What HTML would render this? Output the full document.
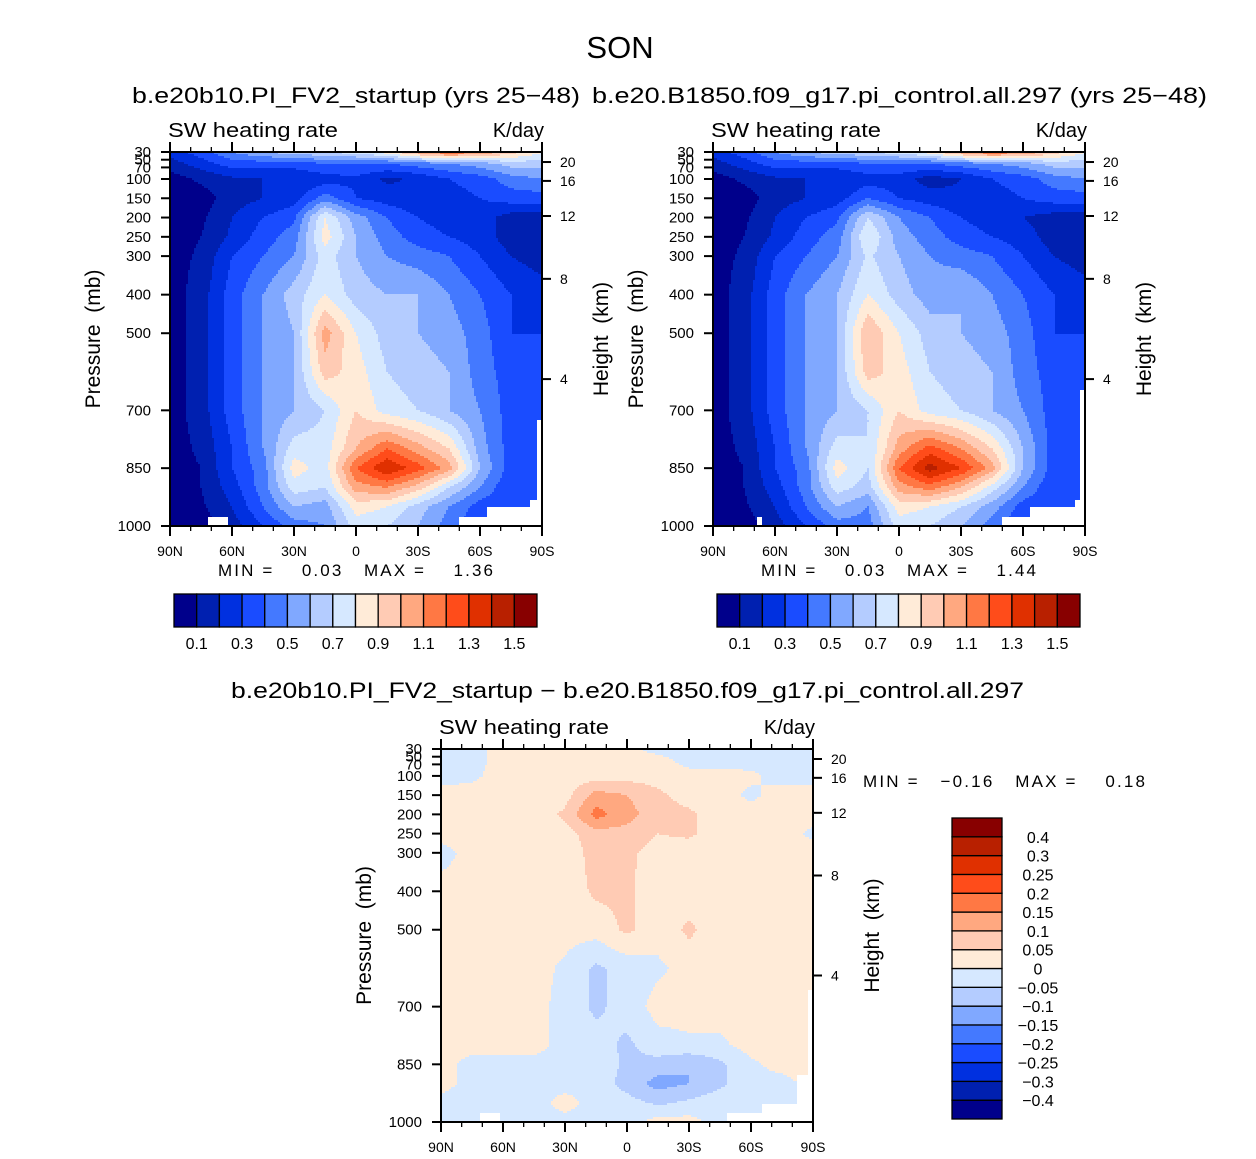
<!DOCTYPE html>
<html><head><meta charset="utf-8">
<style>
html,body{margin:0;padding:0;background:#fff;}
svg{display:block;font-family:"Liberation Sans",sans-serif;}
text{fill:#000;white-space:pre;}
</style></head>
<body>
<svg id="chart" width="1256" height="1159" viewBox="0 0 1256 1159" xmlns="http://www.w3.org/2000/svg">
<rect x="0" y="0" width="1256" height="1159" fill="#fff"/>
<text x="620" y="58" font-size="31" text-anchor="middle">SON</text>
<text x="132" y="103" font-size="22" textLength="448" lengthAdjust="spacingAndGlyphs">b.e20b10.PI_FV2_startup (yrs 25−48)</text>
<text x="592" y="103" font-size="22" textLength="615" lengthAdjust="spacingAndGlyphs">b.e20.B1850.f09_g17.pi_control.all.297 (yrs 25−48)</text>
<text x="231" y="698" font-size="22" textLength="793" lengthAdjust="spacingAndGlyphs">b.e20b10.PI_FV2_startup − b.e20.B1850.f09_g17.pi_control.all.297</text>
<g id="layer"></g>
</svg>
<script>
// ---- data ----
const lats = [90,75,60,45,30,15,0,-15,-30,-45,-60,-75,-90];
const pLevels = [30,60,100,150,200,250,300,400,500,600,700,800,850,900,950,1000];
const pTicks = [30,50,70,100,150,200,250,300,400,500,700,850,1000];
const hTicks = [20,16,12,8,4];
const hTickP = [56,105,196,359,619];
const latTickLabels = ["90N","60N","30N","0","30S","60S","90S"];
const levels1 = [0.1,0.2,0.3,0.4,0.5,0.6,0.7,0.8,0.9,1.0,1.1,1.2,1.3,1.4,1.5];
const levelLabels1 = ["0.1","0.3","0.5","0.7","0.9","1.1","1.3","1.5"];
const levelsD = [-0.4,-0.3,-0.25,-0.2,-0.15,-0.1,-0.05,0,0.05,0.1,0.15,0.2,0.25,0.3,0.4];
const levelLabelsD = ["-0.4","-0.3","-0.25","-0.2","-0.15","-0.1","-0.05","0","0.05","0.1","0.15","0.2","0.25","0.3","0.4"];
const colors = ["#00008b","#0020b0","#0030e0","#1a4cff","#4479ff","#80a8ff","#b4ccff","#d6e8ff","#ffebd8","#ffcbb4","#ffa880","#ff7844","#ff4c1a","#e03000","#b82000","#880000"];
const field1 = [
[0.25,0.35,0.5,0.6,0.65,0.7,0.75,0.85,1.05,1.2,1.1,0.95,0.8],
[0.15,0.25,0.35,0.35,0.35,0.4,0.4,0.4,0.45,0.5,0.55,0.65,0.65],
[0.05,0.12,0.18,0.2,0.2,0.25,0.28,0.18,0.22,0.3,0.35,0.45,0.5],
[0.05,0.05,0.15,0.2,0.25,0.45,0.3,0.25,0.22,0.25,0.3,0.35,0.35],
[0.05,0.08,0.2,0.3,0.38,0.8,0.55,0.4,0.3,0.25,0.25,0.15,0.15],
[0.05,0.1,0.22,0.35,0.45,0.85,0.6,0.45,0.35,0.3,0.25,0.15,0.12],
[0.05,0.12,0.3,0.4,0.5,0.75,0.6,0.5,0.45,0.4,0.3,0.2,0.15],
[0.05,0.15,0.35,0.5,0.65,0.8,0.65,0.6,0.6,0.5,0.4,0.3,0.25],
[0.05,0.15,0.35,0.5,0.6,1.05,0.8,0.65,0.6,0.55,0.45,0.3,0.3],
[0.05,0.15,0.35,0.5,0.6,0.95,0.85,0.7,0.65,0.6,0.45,0.35,0.3],
[0.05,0.15,0.35,0.5,0.6,0.7,0.9,0.75,0.7,0.6,0.5,0.35,0.3],
[0.05,0.12,0.3,0.5,0.75,0.75,1.0,1.2,1.05,0.9,0.55,0.35,0.3],
[0.05,0.1,0.3,0.45,0.85,0.75,1.2,1.4,1.25,1.05,0.6,0.35,0.3],
[0.05,0.1,0.25,0.45,0.75,0.7,1.05,1.1,0.95,0.7,0.5,0.3,0.3],
[0.05,0.08,0.2,0.4,0.6,0.55,0.85,0.8,0.65,0.5,0.35,0.3,0.3],
[0.05,0.05,0.15,0.3,0.45,0.5,0.75,0.7,0.6,0.45,0.3,0.3,0.3]];
const field2 = [
[0.25,0.35,0.5,0.6,0.65,0.7,0.75,0.85,1.05,1.2,1.1,0.95,0.8],
[0.15,0.25,0.35,0.35,0.35,0.4,0.4,0.4,0.45,0.5,0.55,0.65,0.65],
[0.05,0.12,0.18,0.2,0.2,0.25,0.25,0.15,0.2,0.3,0.35,0.45,0.5],
[0.05,0.05,0.15,0.2,0.25,0.4,0.3,0.25,0.22,0.25,0.3,0.35,0.35],
[0.05,0.08,0.2,0.3,0.38,0.7,0.5,0.4,0.3,0.25,0.2,0.15,0.15],
[0.05,0.1,0.22,0.35,0.45,0.8,0.55,0.45,0.35,0.3,0.25,0.15,0.12],
[0.05,0.12,0.3,0.4,0.5,0.72,0.6,0.5,0.45,0.4,0.3,0.2,0.15],
[0.05,0.15,0.35,0.5,0.6,0.8,0.65,0.55,0.6,0.5,0.4,0.3,0.25],
[0.05,0.15,0.35,0.5,0.6,1.0,0.8,0.65,0.6,0.55,0.45,0.3,0.3],
[0.05,0.15,0.35,0.5,0.6,0.95,0.85,0.7,0.65,0.6,0.45,0.35,0.3],
[0.05,0.15,0.35,0.5,0.6,0.7,0.9,0.75,0.7,0.6,0.5,0.35,0.3],
[0.05,0.12,0.3,0.5,0.75,0.7,1.05,1.25,1.1,0.9,0.6,0.35,0.3],
[0.05,0.1,0.3,0.45,0.85,0.7,1.2,1.45,1.3,1.05,0.6,0.35,0.3],
[0.05,0.1,0.25,0.45,0.75,0.65,1.05,1.15,1.0,0.75,0.5,0.3,0.3],
[0.05,0.08,0.2,0.4,0.6,0.5,0.85,0.8,0.7,0.55,0.35,0.3,0.3],
[0.05,0.05,0.15,0.3,0.45,0.45,0.75,0.7,0.6,0.45,0.3,0.3,0.3]];
const fieldD = [
[-0.02,-0.02,0.02,0.02,0.02,0.02,0.02,-0.02,-0.02,-0.02,-0.02,-0.02,-0.02],
[-0.02,-0.02,0.02,0.02,0.02,0.02,0.02,0.02,-0.02,-0.02,-0.02,-0.02,-0.02],
[-0.02,-0.01,0.02,0.02,0.02,0.03,0.03,0.03,0.02,0.02,0.01,-0.02,-0.02],
[0.02,0.02,0.02,0.02,0.03,0.12,0.1,0.06,0.03,0.02,-0.01,0.02,0.02],
[0.02,0.02,0.02,0.02,0.06,0.17,0.12,0.07,0.06,0.02,0.02,0.02,0.02],
[0.02,0.02,0.02,0.02,0.03,0.08,0.08,0.05,0.06,0.02,0.02,0.02,-0.01],
[-0.02,0.02,0.02,0.02,0.02,0.07,0.06,0.03,0.02,0.02,0.02,0.02,0.02],
[0.02,0.02,0.02,0.02,0.02,0.06,0.06,0.02,0.02,0.02,0.02,0.02,0.02],
[0.02,0.02,0.02,0.02,0.02,0.02,0.06,0.02,0.06,0.02,0.02,0.02,0.02],
[0.02,0.02,0.02,0.02,-0.01,-0.06,-0.03,-0.01,0.02,0.02,0.02,0.02,0.02],
[0.02,0.02,0.02,0.02,-0.02,-0.06,-0.03,0.02,0.02,0.02,0.02,0.02,0.02],
[0.02,0.02,0.02,0.02,-0.02,-0.03,-0.06,-0.02,-0.01,-0.01,0.02,0.02,0.02],
[0.02,-0.02,-0.02,-0.02,-0.02,-0.02,-0.06,-0.07,-0.1,-0.06,-0.01,0.02,0.02],
[0.02,-0.02,-0.02,-0.02,-0.02,-0.02,-0.07,-0.12,-0.1,-0.06,-0.02,-0.02,0.02],
[-0.02,-0.02,-0.02,-0.02,0.02,-0.02,-0.03,-0.06,-0.04,-0.02,-0.02,-0.02,0.02],
[-0.02,-0.02,-0.02,-0.02,-0.02,-0.02,-0.02,0.02,0.02,-0.02,-0.02,-0.02,-0.02]];

// ---- drawing ----
const NS = "http://www.w3.org/2000/svg";
const layer = document.getElementById('layer');
function mk(tag, attrs, parent){
  const e = document.createElementNS(NS, tag);
  for (const k in attrs) e.setAttribute(k, attrs[k]);
  (parent||layer).appendChild(e);
  return e;
}
function colorIndex(v, lv){ let i=0; while(i<lv.length && v>=lv[i]) i++; return i; }
function sample(field, latF, p){
  let j=0; while(j<pLevels.length-2 && p>pLevels[j+1]) j++;
  const t = Math.max(0,Math.min(1,(p-pLevels[j])/(pLevels[j+1]-pLevels[j])));
  let i=Math.floor(latF); if(i>=lats.length-1) i=lats.length-2; if(i<0)i=0;
  const s = latF-i;
  const a=field[j][i], b=field[j][i+1], c=field[j+1][i], d=field[j+1][i+1];
  return (a*(1-s)+b*s)*(1-t)+(c*(1-s)+d*s)*t;
}

function panel(opts){
  const {x0,y0,w,h,field,lv,name} = opts;
  const g = mk('g',{});
  
  
  const xs = lat => x0 + (90-lat)/180*w;
  const ys = p => y0 + h - (1000-p)/970*h;
  const step = 2;
  for(let py=y0; py<y0+h; py+=step){
    const pc = 1000-(y0+h-(py+step/2))/h*970;
    let runStart=x0, runC=-1;
    for(let px=x0; px<=x0+w; px+=step){
      let c=-1;
      if(px<x0+w){
        const latF=(px+step/2-x0)/w*(lats.length-1);
        c=colorIndex(sample(field,latF,pc),lv);
      }
      if(c!==runC){
        if(runC>=0){
          const r=mk('rect',{x:runStart,y:py,width:Math.min(px,x0+w)-runStart,height:Math.min(step,y0+h-py)+0.3,fill:colors[runC]},g);
          
          
        }
        runStart=px; runC=c;
      }
    }
  }
  (opts.masks||[]).forEach(m=>{
    const r=mk('rect',{x:m[0],y:m[1],width:m[2],height:m[3],fill:'#fff'},g);
    
    
  });
  const fr=mk('rect',{x:x0,y:y0,width:w,height:h,fill:'none',stroke:'#000','stroke-width':2},g);
  
  
  for(let lat=90; lat>=-90; lat-=10){
    const x=xs(lat); const major=(lat%30===0); const L=major?10:5;
    mk('line',{x1:x,y1:y0+h,x2:x,y2:y0+h+L,stroke:'#000','stroke-width':major?2:1.3},g);
    mk('line',{x1:x,y1:y0,x2:x,y2:y0-L,stroke:'#000','stroke-width':major?2:1.3},g);
  }
  latTickLabels.forEach((lab,k)=>{
    const t=mk('text',{x:xs(90-30*k),y:y0+h+30,'font-size':14,'text-anchor':'middle'},g);
    t.textContent=lab;
    
    
  });
  pTicks.forEach(p=>{
    const y=ys(p);
    mk('line',{x1:x0-9,y1:y,x2:x0,y2:y,stroke:'#000','stroke-width':2},g);
    const t=mk('text',{x:x0-19,y:y+5,'font-size':15,'text-anchor':'end'},g);
    t.textContent=String(p);
    
    
  });
  hTicks.forEach((hk,k)=>{
    const y=ys(hTickP[k]);
    mk('line',{x1:x0+w,y1:y,x2:x0+w+9,y2:y,stroke:'#000','stroke-width':2},g);
    const t=mk('text',{x:x0+w+18,y:y+5,'font-size':14},g);
    t.textContent=String(hk);
    
    
  });
  const yl=mk('text',{x:0,y:0,'font-size':21,'text-anchor':'middle',transform:`translate(${x0-70},${y0+h/2}) rotate(-90)`},g);
  yl.textContent='Pressure  (mb)';
  
  
  const hl=mk('text',{x:0,y:0,'font-size':21,'text-anchor':'middle',transform:`translate(${x0+w+66},${y0+h/2}) rotate(-90)`},g);
  hl.textContent='Height  (km)';
  
  
  const st=mk('text',{x:x0-2,y:y0-15,'font-size':20,textLength:170,lengthAdjust:'spacingAndGlyphs'},g);
  st.textContent='SW heating rate';
  
  
  const un=mk('text',{x:x0+w+2,y:y0-15,'font-size':20,'text-anchor':'end'},g);
  un.textContent='K/day';
  
  
}

function hbar(x0,y0,w,h,lbls,name){
  const g=mk('g',{});
  
  
  const n=colors.length, bw=w/n;
  colors.forEach((c,i)=>{
    const r=mk('rect',{x:x0+i*bw,y:y0,width:bw,height:h,fill:c,stroke:'#000','stroke-width':1.3},g);
    
    
  });
  lbls.forEach((l,k)=>{
    const t=mk('text',{x:x0+(1+2*k)*bw,y:y0+h+22,'font-size':16,'text-anchor':'middle'},g);
    t.textContent=l;
    
    
  });
}
function vbar(x0,y0,w,h,lbls,name){
  const g=mk('g',{});
  
  
  const n=colors.length, bh=h/n;
  colors.forEach((c,i)=>{
    const r=mk('rect',{x:x0,y:y0+h-(i+1)*bh,width:w,height:bh,fill:c,stroke:'#000','stroke-width':1.3},g);
    
    
  });
  lbls.forEach((l,k)=>{
    const t=mk('text',{x:x0+w+36,y:y0+h-(k+1)*bh+6,'font-size':16,'text-anchor':'middle'},g);
    t.textContent=l.replace('-','−');
    
    
  });
}
function txt(x,y,s,size,len,name){
  const t=mk('text',{x:x,y:y,'font-size':size,textLength:len,lengthAdjust:'spacing'});
  t.textContent=s;
  
  
}

panel({x0:170,y0:152,w:372,h:374,field:field1,lv:levels1,name:'panel1',
  masks:[[208,517,20,9],[459,517,28,9],[487,507,43,19],[530,500,12,26],[537,420,5,106]]});
panel({x0:713,y0:152,w:372,h:374,field:field2,lv:levels1,name:'panel2',
  masks:[[757,517,5,9],[1002,517,28,9],[1030,507,45,19],[1075,500,10,26],[1080,390,5,136]]});
panel({x0:441,y0:749,w:372,h:373,field:fieldD,lv:levelsD,name:'diff',
  masks:[[480,1113,20,9],[727,1113,35,9],[762,1104,35,18],[797,1075,16,47],[808,990,5,132]]});

txt(218,576,'MIN =    0.03   MAX =    1.36',17,275,'panel1-min-max');
txt(761,576,'MIN =    0.03   MAX =    1.44',17,275,'panel2-min-max');
txt(863,787,'MIN =   −0.16   MAX =    0.18',17,282,'diff-min-max');
hbar(174,594,363,33,levelLabels1,'panel1-colorbar');
hbar(717,594,363,33,levelLabels1,'panel2-colorbar');
vbar(952,818,50,301,levelLabelsD,'diff-colorbar');
</script>
</body></html>
